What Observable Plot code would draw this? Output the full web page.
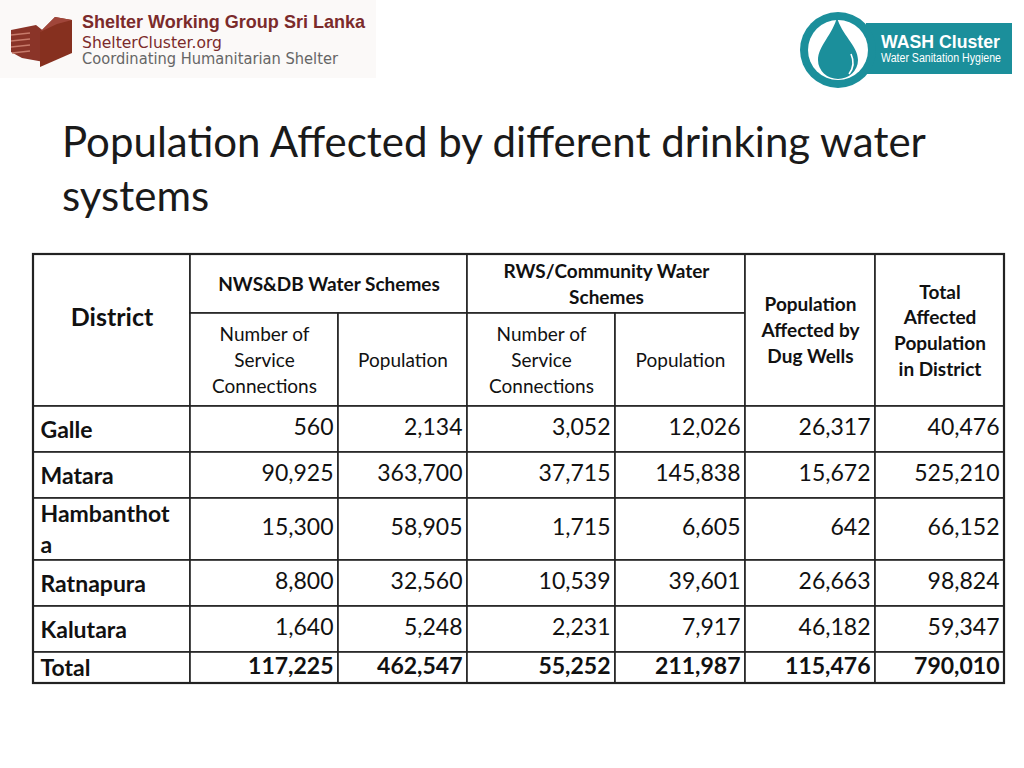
<!DOCTYPE html>
<html><head><meta charset="utf-8">
<script src="https://cdn.jsdelivr.net/npm/d3@7"></script>
<script src="https://cdn.jsdelivr.net/npm/@observablehq/plot@0.6"></script>
<style>
html,body{margin:0;padding:0;background:#fff;width:1024px;height:768px;overflow:hidden;font-family:Lato,"Open Sans",sans-serif;}
#page{position:relative;width:1024px;height:768px;}
#title{position:absolute;left:62px;top:114px;font-size:42px;line-height:54px;color:#1a1a1a;white-space:nowrap;}
#chart{position:absolute;left:0;top:0;}
.logo{position:absolute;overflow:visible;}
</style></head>
<body><div id="page">
<svg class="logo" style="left:0;top:0" width="470" height="90">
  <rect x="0" y="0" width="376" height="78" fill="#fbf9f8"/>
  <polygon points="11,30 36,25 46,33 44,62 22,58 11,52" fill="#8a3428"/>
  <polygon points="40,32 55,17 72,20 72,53 40,67" fill="#86301f"/>
  <polygon points="40,32 55,17 72,20 57,24" fill="#a0463a"/>
  <g stroke="#c77a6a" stroke-width="1.6">
    <line x1="11" y1="35" x2="30" y2="33"/>
    <line x1="11" y1="41" x2="30" y2="39"/>
    <line x1="11" y1="47" x2="30" y2="45"/>
    <line x1="12" y1="53" x2="30" y2="51"/>
  </g>
  <text x="82" y="28" font-family="'Liberation Sans',Arial,sans-serif" font-weight="bold" font-size="19" fill="#7b2b2b" textLength="283" lengthAdjust="spacingAndGlyphs">Shelter Working Group Sri Lanka</text>
  <text x="82" y="48" font-family="'DejaVu Sans',sans-serif" font-size="16" fill="#7b2b2b" textLength="140" lengthAdjust="spacingAndGlyphs">ShelterCluster.org</text>
  <text x="82" y="64" font-family="'DejaVu Sans',sans-serif" font-size="15" fill="#666" textLength="256" lengthAdjust="spacingAndGlyphs">Coordinating Humanitarian Shelter</text>
</svg>
<svg class="logo" style="left:790px;top:0" width="234" height="100">
  <rect x="76" y="23" width="146" height="51" fill="#1b8f9b"/>
  <circle cx="48" cy="50" r="38" fill="#1b8f9b"/>
  <circle cx="48" cy="50" r="30" fill="#fff"/>
  <path d="M47,17 C43,34 28,46 28,60 A20,19 0 0 0 68,60 C68,46 51,34 47,17 Z" fill="#1b8f9b"/>
  <path d="M61,54 Q66,65 59,74" stroke="#fff" stroke-width="1.6" fill="none"/>
  <text x="91" y="48" font-family="'Liberation Sans',Arial,sans-serif" font-weight="bold" font-size="18" fill="#fff" textLength="119" lengthAdjust="spacingAndGlyphs">WASH Cluster</text>
  <text x="91" y="62" font-family="'Liberation Sans',Arial,sans-serif" font-size="12.5" fill="#fff" textLength="120" lengthAdjust="spacingAndGlyphs">Water Sanitation Hygiene</text>
</svg>
<div id="title">Population Affected by different drinking water<br>systems</div>
<div id="chart"></div>
</div>
<script>
// ---- data ----
const districts = ["Galle", "Matara", "Hambanthota", "Ratnapura", "Kalutara", "Total"];
const nwsConnections = [560, 90925, 15300, 8800, 1640, 117225];
const nwsPopulation = [2134, 363700, 58905, 32560, 5248, 462547];
const rwsConnections = [3052, 37715, 1715, 10539, 2231, 55252];
const rwsPopulation = [12026, 145838, 6605, 39601, 7917, 211987];
const dugWells = [26317, 15672, 642, 26663, 46182, 115476];
const totalAffected = [40476, 525210, 66152, 98824, 59347, 790010];

const districtHeader = "District";
const groupHeaders = ["NWS&DB Water Schemes", "RWS/Community Water\nSchemes"];
const subHeaders = ["Number of\nService\nConnections", "Population"];
const dugWellsHeader = "Population\nAffected by\nDug Wells";
const totalHeader = "Total\nAffected\nPopulation\nin District";

// ---- layout ----
const colX = [33, 190, 338, 467, 615, 745, 875, 1004];
const hTop = 254, hMid = 313, hBot = 406;
const rowY = [406, 452, 498, 560, 606, 652, 683];

const headerCells = [
  {x1: colX[0], x2: colX[1], y1: hTop, y2: hBot, text: districtHeader, kind: "district"},
  {x1: colX[1], x2: colX[3], y1: hTop, y2: hMid, text: groupHeaders[0], kind: "bold"},
  {x1: colX[3], x2: colX[5], y1: hTop, y2: hMid, text: groupHeaders[1], kind: "bold"},
  {x1: colX[1], x2: colX[2], y1: hMid, y2: hBot, text: subHeaders[0], kind: "sub"},
  {x1: colX[2], x2: colX[3], y1: hMid, y2: hBot, text: subHeaders[1], kind: "sub"},
  {x1: colX[3], x2: colX[4], y1: hMid, y2: hBot, text: subHeaders[0], kind: "sub"},
  {x1: colX[4], x2: colX[5], y1: hMid, y2: hBot, text: subHeaders[1], kind: "sub"},
  {x1: colX[5], x2: colX[6], y1: hTop, y2: hBot, text: dugWellsHeader, kind: "bold"},
  {x1: colX[6], x2: colX[7], y1: hTop, y2: hBot, text: totalHeader, kind: "bold"}
];

const series = [nwsConnections, nwsPopulation, rwsConnections, rwsPopulation, dugWells, totalAffected];
const fmt = d3.format(",");
const wrapName = (s) => s.length > 10 ? s.slice(0, 10) + "\n" + s.slice(10) : s;

const bodyCells = [];
districts.forEach((name, r) => {
  bodyCells.push({x1: colX[0], x2: colX[1], y1: rowY[r], y2: rowY[r + 1], text: wrapName(name), kind: "name", total: r === districts.length - 1});
  series.forEach((arr, c) => {
    bodyCells.push({x1: colX[c + 1], x2: colX[c + 2], y1: rowY[r], y2: rowY[r + 1], text: fmt(arr[r]), kind: "num", total: r === districts.length - 1});
  });
});

const allCells = headerCells.concat(bodyCells);
const cx = d => (d.x1 + d.x2) / 2;
const cy = d => (d.y1 + d.y2) / 2;
const ink = "#111";

const chart = Plot.plot({
  width: 1024,
  height: 768,
  margin: 0,
  x: {type: "identity", axis: null},
  y: {type: "identity", axis: null},
  style: {fontFamily: "Lato, 'Open Sans', sans-serif", background: "transparent"},
  marks: [
    Plot.rect(allCells, {x1: "x1", x2: "x2", y1: "y1", y2: "y2", fill: "white", stroke: "#222", strokeWidth: 1.6}),
    Plot.rect([{x1: colX[0], x2: colX[7], y1: hTop, y2: rowY[rowY.length - 1]}], {x1: "x1", x2: "x2", y1: "y1", y2: "y2", fill: "none", stroke: "#222", strokeWidth: 2.2}),
    Plot.text(headerCells.filter(d => d.kind === "district"), {x: cx, y: d => cy(d) - 13, text: "text", fontSize: 25, fontWeight: "bold", fill: ink}),
    Plot.text(headerCells.filter(d => d.kind === "bold"), {x: cx, y: cy, dy: -1.5, text: "text", fontSize: 19, fontWeight: "bold", lineHeight: 1.36, fill: ink}),
    Plot.text(headerCells.filter(d => d.kind === "sub"), {x: cx, y: cy, dy: -1.5, text: "text", fontSize: 19, lineHeight: 1.37, fill: ink}),
    Plot.text(bodyCells.filter(d => d.kind === "name"), {x: d => d.x1 + 7, y: cy, dy: -1.5, text: "text", textAnchor: "start", fontSize: 23, fontWeight: "bold", lineHeight: 1.35, fill: ink}),
    Plot.text(bodyCells.filter(d => d.kind === "num" && !d.total), {x: d => d.x2 - 5, y: cy, dy: -1.5, text: "text", textAnchor: "end", fontSize: 23, fill: ink}),
    Plot.text(bodyCells.filter(d => d.kind === "num" && d.total), {x: d => d.x2 - 5, y: cy, dy: -1.5, text: "text", textAnchor: "end", fontSize: 23, fontWeight: "bold", fill: ink})
  ]
});
document.getElementById("chart").appendChild(chart);
</script>
</body></html>
